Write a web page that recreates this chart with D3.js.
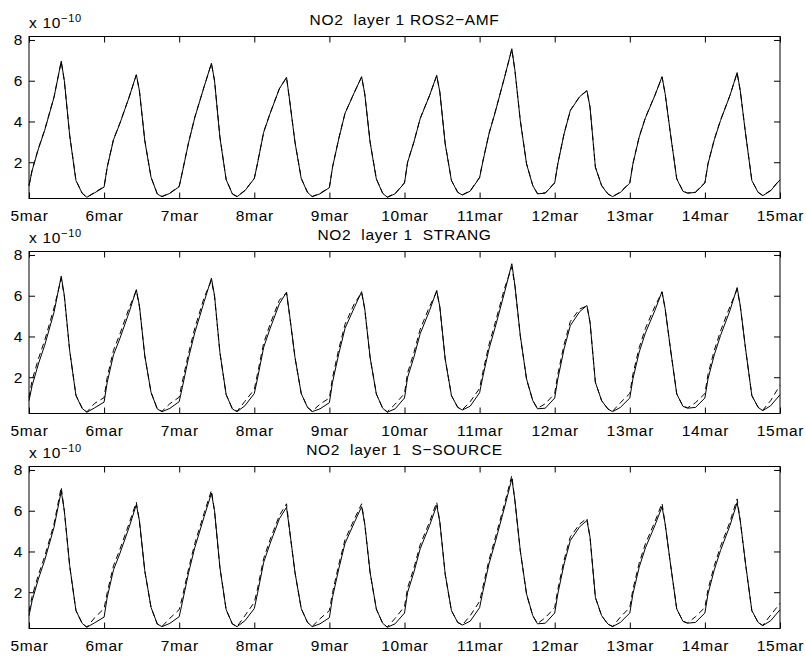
<!DOCTYPE html>
<html>
<head>
<meta charset="utf-8">
<script src="https://cdn.jsdelivr.net/npm/d3@7"></script>
<style>
  body { margin: 0; background: #fff; }
  #chart { width: 806px; height: 656px; }
  text { font-family: "Liberation Sans", Arial, Helvetica, sans-serif; fill: #000; }
  .axis text { font-size: 15.5px; letter-spacing: 0.7px; }
  .axis line { stroke: #000; }
  .axis path { display: none; }
  .title { font-size: 15.5px; letter-spacing: 0.7px; white-space: pre; }
</style>
</head>
<body>
<div id="chart"></div>
<script>
// 1. Data

const dayTicks = [5, 6, 7, 8, 9, 10, 11, 12, 13, 14, 15];
const tickLabels = ["5mar","6mar","7mar","8mar","9mar","10mar","11mar","12mar","13mar","14mar","15mar"];
const sampleDays = [5, 6, 7, 8, 9, 10, 11, 12, 13, 14];
const hoursOfDay = [0, 1, 3, 5, 8, 10.3, 11.3, 13, 15, 17, 18.5, 21];
const yTicks = [2, 4, 6, 8];
const titles = ["NO2  layer 1 ROS2\u2212AMF", "NO2  layer 1  STRANG", "NO2  layer 1  S\u2212SOURCE"];

// reference solution (solid), one row per day, last value = 15mar 00h
const reference = [
  0.85, 1.59, 2.65, 3.56, 5.19, 6.96, 6.00, 3.31, 1.10, 0.47, 0.28, 0.50,
  0.78, 1.75, 3.10, 3.88, 5.19, 6.30, 5.50, 3.06, 1.26, 0.44, 0.31, 0.47,
  0.80, 1.50, 2.96, 4.20, 5.72, 6.86, 6.00, 3.23, 1.15, 0.44, 0.31, 0.60,
  1.20, 1.92, 3.47, 4.37, 5.60, 6.17, 5.03, 2.98, 1.20, 0.52, 0.31, 0.45,
  0.75, 1.75, 3.15, 4.40, 5.43, 6.20, 5.36, 2.98, 1.18, 0.48, 0.28, 0.45,
  0.98, 2.00, 2.98, 4.13, 5.27, 6.26, 5.44, 2.90, 1.10, 0.52, 0.39, 0.58,
  1.24, 2.00, 3.39, 4.46, 6.18, 7.57, 6.50, 4.05, 1.92, 0.85, 0.45, 0.48,
  0.98, 1.92, 3.39, 4.54, 5.22, 5.52, 4.70, 1.75, 0.85, 0.44, 0.31, 0.52,
  0.98, 1.92, 3.23, 4.18, 5.27, 6.20, 5.36, 3.39, 1.18, 0.57, 0.48, 0.52,
  0.98, 1.92, 3.10, 4.05, 5.27, 6.40, 5.52, 3.39, 1.10, 0.52, 0.36, 0.60,
  1.14
];

const ros2amf = [
  0.85, 1.62, 2.68, 3.58, 5.21, 6.93, 5.97, 3.34, 1.12, 0.48, 0.29, 0.52,
  0.80, 1.77, 3.12, 3.90, 5.20, 6.28, 5.48, 3.08, 1.27, 0.45, 0.32, 0.49,
  0.82, 1.53, 2.98, 4.22, 5.73, 6.84, 5.98, 3.25, 1.16, 0.45, 0.32, 0.62,
  1.21, 1.94, 3.49, 4.38, 5.61, 6.15, 5.02, 3.00, 1.21, 0.53, 0.32, 0.47,
  0.77, 1.77, 3.17, 4.41, 5.44, 6.18, 5.35, 3.00, 1.19, 0.49, 0.29, 0.47,
  1.00, 2.02, 3.00, 4.15, 5.28, 6.24, 5.43, 2.92, 1.11, 0.53, 0.40, 0.60,
  1.26, 2.03, 3.41, 4.48, 6.19, 7.54, 6.48, 4.06, 1.93, 0.86, 0.46, 0.50,
  1.00, 1.94, 3.41, 4.55, 5.23, 5.50, 4.69, 1.77, 0.86, 0.45, 0.32, 0.54,
  1.00, 1.94, 3.25, 4.20, 5.28, 6.18, 5.35, 3.40, 1.19, 0.58, 0.49, 0.54,
  1.00, 1.94, 3.12, 4.07, 5.28, 6.38, 5.50, 3.40, 1.11, 0.53, 0.37, 0.62,
  1.16
];

const strang = [
  1.00, 1.85, 2.90, 3.80, 5.40, 6.85, 5.95, 3.30, 1.12, 0.48, 0.30, 0.72,
  1.00, 2.00, 3.32, 4.10, 5.40, 6.25, 5.45, 3.05, 1.25, 0.45, 0.33, 0.70,
  1.02, 1.78, 3.18, 4.42, 5.92, 6.75, 5.95, 3.22, 1.15, 0.45, 0.33, 0.82,
  1.40, 2.15, 3.68, 4.58, 5.78, 6.15, 5.00, 2.97, 1.20, 0.53, 0.33, 0.68,
  0.98, 1.98, 3.38, 4.60, 5.62, 6.15, 5.33, 2.97, 1.18, 0.49, 0.30, 0.68,
  1.20, 2.22, 3.20, 4.35, 5.47, 6.20, 5.42, 2.90, 1.10, 0.53, 0.41, 0.80,
  1.45, 2.22, 3.60, 4.68, 6.38, 7.42, 6.45, 4.03, 1.90, 0.85, 0.47, 0.70,
  1.20, 2.15, 3.60, 4.74, 5.35, 5.50, 4.68, 1.75, 0.85, 0.45, 0.33, 0.75,
  1.20, 2.15, 3.45, 4.40, 5.47, 6.18, 5.35, 3.38, 1.18, 0.58, 0.50, 0.75,
  1.20, 2.15, 3.32, 4.27, 5.47, 6.30, 5.50, 3.38, 1.10, 0.53, 0.38, 0.85,
  1.60
];

const ssource = [
  1.05, 1.80, 2.85, 3.75, 5.35, 7.16, 5.95, 3.28, 1.10, 0.47, 0.29, 0.75,
  1.20, 1.98, 3.30, 4.08, 5.38, 6.42, 5.45, 3.04, 1.25, 0.44, 0.32, 0.72,
  1.15, 1.75, 3.15, 4.40, 5.90, 7.00, 5.95, 3.22, 1.14, 0.44, 0.32, 0.85,
  1.50, 2.15, 3.66, 4.56, 5.76, 6.34, 5.00, 2.96, 1.19, 0.52, 0.32, 0.70,
  1.10, 1.98, 3.36, 4.58, 5.60, 6.34, 5.33, 2.96, 1.17, 0.48, 0.29, 0.72,
  1.30, 2.22, 3.18, 4.32, 5.45, 6.42, 5.42, 2.88, 1.09, 0.52, 0.40, 0.85,
  1.55, 2.22, 3.58, 4.66, 6.36, 7.73, 6.45, 4.02, 1.90, 0.84, 0.46, 0.75,
  1.25, 2.14, 3.58, 4.72, 5.35, 5.63, 4.68, 1.74, 0.84, 0.44, 0.32, 0.78,
  1.25, 2.14, 3.43, 4.38, 5.45, 6.37, 5.34, 3.37, 1.17, 0.57, 0.49, 0.80,
  1.25, 2.14, 3.30, 4.25, 5.45, 6.58, 5.50, 3.37, 1.09, 0.52, 0.37, 0.88,
  1.45
];

const methods = [ros2amf, strang, ssource];

// sample times in days (day + hour/24), closing point at 15mar 00h
const times = [];
sampleDays.forEach(function(d) {
  hoursOfDay.forEach(function(h) { times.push(d + h / 24); });
});
times.push(15);

// 2. Canvas

const width = 806;
const height = 656;

const svg = d3.select("#chart")
  .append("svg")
  .attr("width", width)
  .attr("height", height);

const left = 29, right = 780;
const panelTops = [36.5, 251.5, 466.5];
const panelHeight = 162;

const xScale = d3.scaleLinear()
  .domain([5, 15])
  .range([left, right]);

// 3. Draw each panel

panelTops.forEach(function(top, i) {
  const bottom = top + panelHeight;

  const yScale = d3.scaleLinear()
    .domain([0.22, 8.17])
    .range([bottom, top]);

  const g = svg.append("g");

  // axes with inward ticks
  g.append("g")
    .attr("class", "axis")
    .attr("transform", `translate(0,${bottom})`)
    .call(d3.axisBottom(xScale).tickValues(dayTicks)
      .tickFormat(function(d, k) { return tickLabels[k]; })
      .tickSizeInner(-6).tickSizeOuter(0).tickPadding(11));

  g.append("g")
    .attr("class", "axis")
    .attr("transform", `translate(0,${top})`)
    .call(d3.axisTop(xScale).tickValues(dayTicks)
      .tickFormat("").tickSizeInner(-6).tickSizeOuter(0));

  g.append("g")
    .attr("class", "axis")
    .attr("transform", `translate(${left},0)`)
    .call(d3.axisLeft(yScale).tickValues(yTicks)
      .tickFormat(d3.format("d")).tickSizeInner(-6).tickSizeOuter(0).tickPadding(6));

  g.append("g")
    .attr("class", "axis")
    .attr("transform", `translate(${right},0)`)
    .call(d3.axisRight(yScale).tickValues(yTicks)
      .tickFormat("").tickSizeInner(-6).tickSizeOuter(0));

  // lines
  const line = d3.line()
    .x(function(d, k) { return xScale(times[k]); })
    .y(function(d) { return yScale(d); });

  g.append("path")
    .datum(reference)
    .attr("d", line)
    .attr("fill", "none")
    .attr("stroke", "#000")
    .attr("stroke-width", 1);

  g.append("path")
    .datum(methods[i])
    .attr("d", line)
    .attr("fill", "none")
    .attr("stroke", "#000")
    .attr("stroke-width", 1)
    .attr("stroke-dasharray", "6,4");

  // box
  g.append("rect")
    .attr("x", left)
    .attr("y", top)
    .attr("width", right - left)
    .attr("height", panelHeight)
    .attr("fill", "none")
    .attr("stroke", "#000")
    .attr("stroke-width", 1);

  // title and exponent label
  g.append("text")
    .attr("class", "title")
    .attr("x", (left + right) / 2)
    .attr("y", top - 12)
    .attr("text-anchor", "middle")
    .text(titles[i]);

  const expo = g.append("text")
    .attr("x", left)
    .attr("y", top - 8.5)
    .attr("font-size", "15.5px")
    .attr("letter-spacing", "0.7px");
  expo.append("tspan").text("x 10");
  expo.append("tspan")
    .attr("font-size", "11px")
    .attr("dy", -6)
    .text("\u221210");
});
</script>
</body>
</html>
